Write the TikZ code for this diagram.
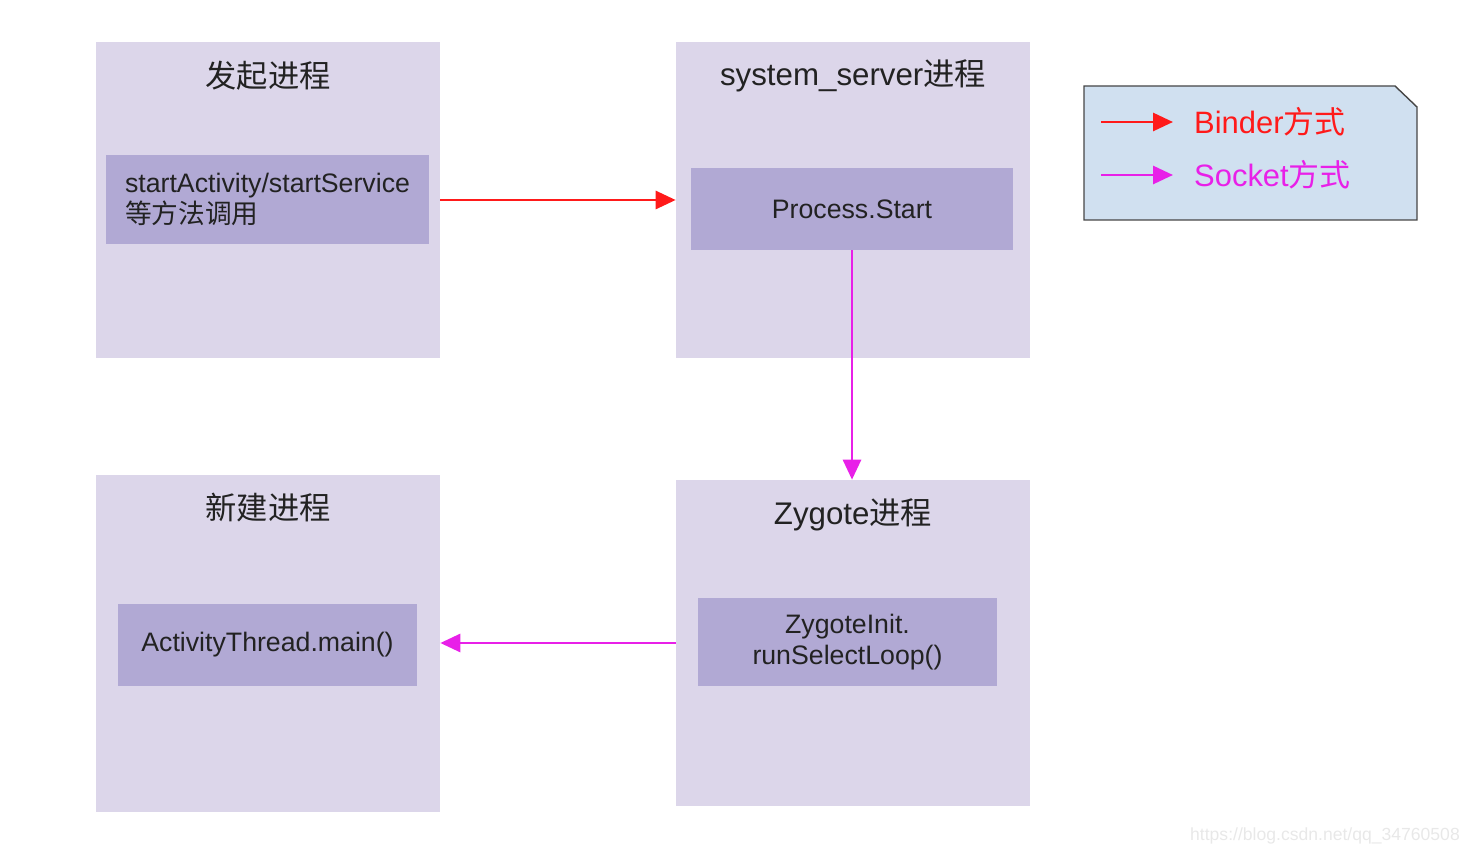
\documentclass[tikz,border=0pt]{standalone}
\usepackage{fontspec}
\setmainfont{Liberation Sans}
\newfontfamily\cjk{Noto Sans CJK SC}
\usetikzlibrary{positioning, arrows.meta}
\definecolor{procbg}{HTML}{DCD6EA}
\definecolor{callbg}{HTML}{B1A9D4}
\definecolor{legbg}{HTML}{D0E0F0}
\definecolor{bindercol}{HTML}{FF1A1A}
\definecolor{socketcol}{HTML}{E820E8}
\definecolor{txt}{HTML}{222222}
\newcommand{\zh}[1]{{\cjk #1}}

\begin{document}
\begin{tikzpicture}[x=0.02cm, y=-0.02cm,
  proc/.style   = {rectangle, fill=procbg, minimum height=6.32cm},
  call/.style   = {rectangle, fill=callbg, text=txt, font=\fontsize{15.2}{17.8}\selectfont, align=left, minimum height=1.64cm},
  title/.style  = {text=txt, font=\fontsize{17.8}{20}\selectfont},
  binder/.style = {-{Triangle[length=4mm,width=3.6mm]}, bindercol, line width=1.6pt},
  socket/.style = {-{Triangle[length=4mm,width=3.6mm]}, socketcol, line width=1.6pt},
  legtext/.style = {anchor=west, font=\fontsize{17.6}{20}\selectfont}]

\useasboundingbox (0,0) rectangle (1474,854);

% process boxes
\node[proc, minimum width=6.88cm] (A) at (268,200) {};
\node[proc, minimum width=7.08cm] (B) at (853,200) {};
\node[proc, minimum width=6.88cm, minimum height=6.74cm] (C) at (268,643.5) {};
\node[proc, minimum width=7.08cm, minimum height=6.52cm] (D) at (853,643) {};

% titles
\node[title] (tA) at (268,76) {\zh{发起进程}};
\node[title] (tB) at (853,76) {system\_server\zh{进程}};
\node[title] (tC) at (268,508) {\zh{新建进程}};
\node[title] (tD) at (853,515) {Zygote\zh{进程}};

% calls inside the processes
\node[call, minimum width=6.46cm, minimum height=1.78cm] (A1) at (267.5,199.5) {startActivity/startService\\\zh{等方法调用}};
\node[call, minimum width=6.44cm] (B1) at (852,209) {Process.Start};
\node[call, minimum width=5.98cm] (C1) at (267.5,645) {ActivityThread.main()};
\node[call, minimum width=5.98cm, minimum height=1.76cm, align=center] (D1) at (847.5,642) {ZygoteInit.\\runSelectLoop()};

% connectors
\draw[binder] (A) -- (B);
\draw[socket] (B1.south) -- (B1.south |- D.north);
\draw[socket] (D.west) -- (C.east |- D.west);

% legend
\draw[fill=legbg, draw=gray!55!black, line width=0.8pt]
  (1084,86) -- (1395,86) -- (1417,107) -- (1417,220) -- (1084,220) -- cycle;
\coordinate (l1s) at (1101,122);
\coordinate (l1e) at (1173,122);
\coordinate (l2s) at (1101,175);
\coordinate (l2e) at (1173,175);
\draw[binder] (l1s) -- (l1e);
\draw[socket] (l2s) -- (l2e);
\node[legtext, text=bindercol] (lbinder) at (1188,122) {Binder\zh{方式}};
\node[legtext, text=socketcol] (lsocket) at (1188,175) {Socket\zh{方式}};

% watermark
\node[anchor=east, text=gray!18, font=\fontsize{10}{12}\selectfont] (wm) at (1466,836) {https://blog.csdn.net/qq\_34760508};
\end{tikzpicture}
\end{document}
